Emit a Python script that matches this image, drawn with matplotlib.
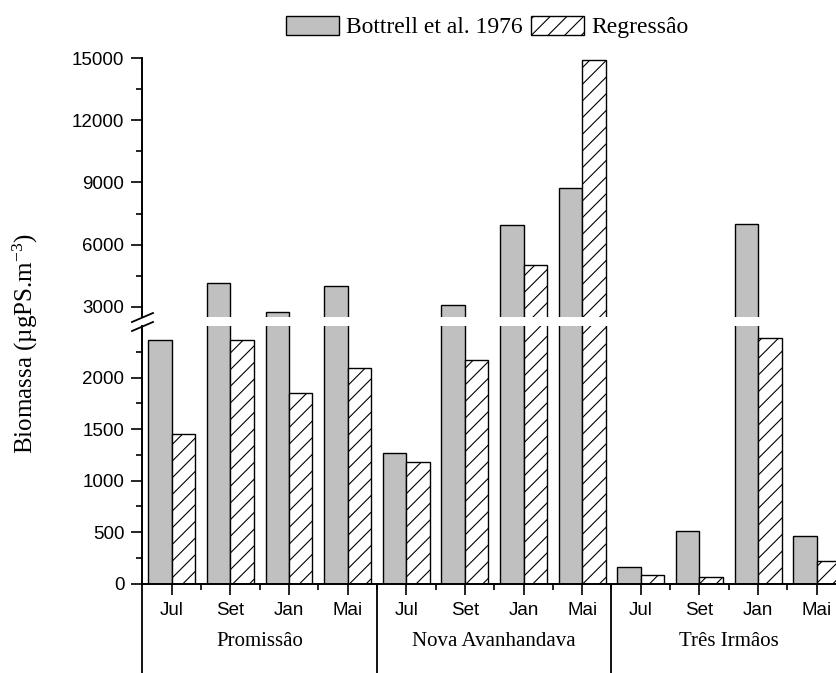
import numpy as np
import matplotlib
matplotlib.use("Agg")
import matplotlib.pyplot as plt
import matplotlib.transforms as mtransforms
from matplotlib.ticker import FixedLocator
from matplotlib.patches import Patch
from matplotlib.lines import Line2D

# ---- data -------------------------------------------------------------
sites = ["Promissâo", "Nova Avanhandava", "Três Irmâos"]
months = ["Jul", "Set", "Jan", "Mai"]
series_names = ["Bottrell et al. 1976", "Regressâo"]
bottrell = [2370, 4150, 2730, 3980, 1270, 3080, 6950, 8750, 160, 510, 6980, 460]
regressao = [1450, 2365, 1855, 2090, 1180, 2170, 5020, 14900, 85, 68, 2390, 217]

lower_ticks = [0, 500, 1000, 1500, 2000]
lower_minor = [250, 750, 1250, 1750, 2250]
upper_ticks = [3000, 6000, 9000, 12000, 15000]
upper_minor = [4500, 7500, 10500, 13500]
break_value = 2500

# ---- style ------------------------------------------------------------
plt.rcParams["font.family"] = ["Liberation Sans", "DejaVu Sans"]
plt.rcParams["mathtext.fontset"] = "custom"
plt.rcParams["mathtext.rm"] = "Liberation Serif"
plt.rcParams["mathtext.it"] = "Liberation Serif:italic"
plt.rcParams["hatch.linewidth"] = 0.8
SERIF = ["Liberation Serif", "DejaVu Serif"]
GRAY = "#c0c0c0"
HATCH = "//"

W, H = 836, 673
fig = plt.figure(figsize=(W / 100, H / 100), dpi=100)


def fy(py):
    return 1 - py / H


x_left, x_right = 142.4, 846.0
top_lo, top_hi = 317.0, 58.3
bot_lo, bot_hi = 583.7, 326.2
ax_top = fig.add_axes([x_left / W, fy(top_lo), (x_right - x_left) / W, (top_lo - top_hi) / H])
ax_bot = fig.add_axes([x_left / W, fy(bot_lo), (x_right - x_left) / W, (bot_lo - bot_hi) / H])

x = np.arange(len(sites) * len(months))
w = 0.4
for ax in (ax_top, ax_bot):
    ax.bar(x - w / 2, bottrell, w, color=GRAY, edgecolor="black", linewidth=1.0)
    ax.bar(x + w / 2, regressao, w, color="white", edgecolor="black",
           hatch=HATCH, linewidth=1.0)
    ax.set_xlim(-0.5, len(x) - 0.5)
    ax.spines["top"].set_visible(False)
    ax.spines["right"].set_visible(False)
    ax.spines["left"].set_linewidth(1.4)
    ax.tick_params(axis="y", which="major", direction="out", length=8, width=1.2,
                   labelsize=13.5, pad=5)
    ax.tick_params(axis="y", which="minor", direction="out", length=4.5, width=1.2)

ax_top.set_ylim(break_value, max(upper_ticks))
ax_bot.set_ylim(0, break_value)

ax_top.spines["bottom"].set_visible(False)
ax_top.tick_params(axis="x", which="both", bottom=False, labelbottom=False)
ax_top.yaxis.set_major_locator(FixedLocator(upper_ticks))
ax_top.yaxis.set_minor_locator(FixedLocator(upper_minor))

ax_bot.spines["bottom"].set_linewidth(1.4)
ax_bot.yaxis.set_major_locator(FixedLocator(lower_ticks))
ax_bot.yaxis.set_minor_locator(FixedLocator(lower_minor))
ax_bot.set_xticks(x)
ax_bot.set_xticklabels(months * len(sites))
ax_bot.xaxis.set_minor_locator(FixedLocator(x[:-1] + 0.5))
ax_bot.tick_params(axis="x", which="major", direction="out", length=8, width=1.2,
                   labelsize=13.5, pad=5)
ax_bot.tick_params(axis="x", which="minor", direction="out", length=4.5, width=1.2)

# group separators and site names below the month labels
trans = mtransforms.blended_transform_factory(ax_bot.transData, ax_bot.transAxes)
for xs in [-0.5] + [k * len(months) - 0.5 for k in range(1, len(sites))]:
    ax_bot.plot([xs, xs], [0, -0.45], transform=trans, clip_on=False,
                color="black", lw=1.3, solid_capstyle="butt")
for k, site in enumerate(sites):
    xc = k * len(months) + (len(months) - 1) / 2
    ax_bot.text(xc, (bot_lo - 641) / (bot_lo - bot_hi), site, transform=trans,
                ha="center", va="center", family=SERIF, fontsize=15)

# axis break marks
for dy in (0, 9):
    fig.add_artist(Line2D([132 / W, 153 / W], [fy(322 + dy), fy(313 + dy)],
                          transform=fig.transFigure, color="black", lw=1.3))

# y label
fig.text(25 / W, fy(343.5), "Biomassa (µgPS.m$^{-3}$)", rotation=90,
         ha="center", va="center", family=SERIF, fontsize=18)

# legend
handles = [
    Patch(facecolor=GRAY, edgecolor="black", linewidth=1.0, label=series_names[0]),
    Patch(facecolor="white", edgecolor="black", hatch=HATCH, linewidth=1.0,
          label=series_names[1]),
]
fig.legend(handles=handles, loc="center", bbox_to_anchor=(487.5 / W, fy(27)),
           ncol=2, frameon=False, prop={"family": SERIF, "size": 17},
           handlelength=2.25, handleheight=0.85, handletextpad=0.3,
           columnspacing=0.35, borderpad=0, borderaxespad=0)

fig.savefig("out.png", dpi=100)
